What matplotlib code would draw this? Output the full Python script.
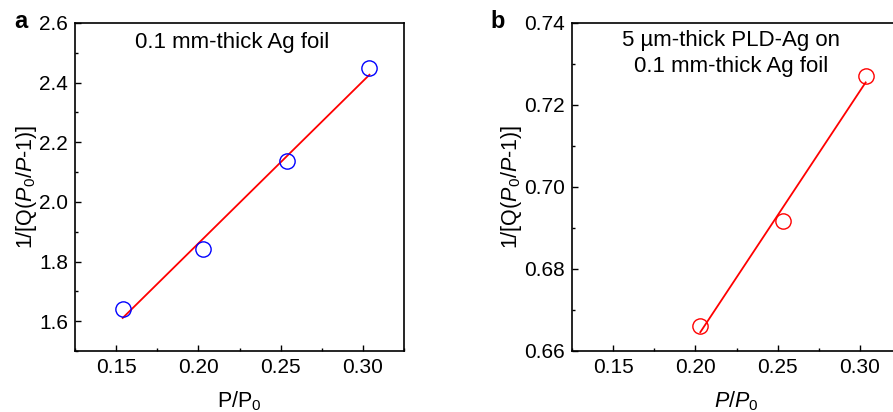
import numpy as np
import matplotlib
matplotlib.use("Agg")
import matplotlib.pyplot as plt
from matplotlib.ticker import MultipleLocator

plt.rcParams['font.family'] = ['Liberation Sans', 'DejaVu Sans']
plt.rcParams['mathtext.fontset'] = 'custom'
plt.rcParams['mathtext.rm'] = 'Liberation Sans'
plt.rcParams['mathtext.it'] = 'Liberation Sans:italic'
plt.rcParams['mathtext.bf'] = 'Liberation Sans:bold'

# Panel a data
pa_x = [0.154, 0.203, 0.254, 0.304]
pa_y = [1.640, 1.843, 2.136, 2.450]
# Panel b data
pb_x = [0.203, 0.253, 0.3035]
pb_y = [0.6662, 0.6917, 0.7271]

xticks = [0.15, 0.20, 0.25, 0.30]
a_yticks = [1.6, 1.8, 2.0, 2.2, 2.4, 2.6]
b_yticks = [0.66, 0.68, 0.70, 0.72, 0.74]

W, H = 893, 412
fig = plt.figure(figsize=(W/100, H/100), dpi=100)

def px_axes(l, t, r, b):
    return fig.add_axes([l/W, 1 - b/H, (r-l)/W, (b-t)/H])

axa = px_axes(75, 23, 404, 351)
axb = px_axes(572, 23, 901, 351)

FS = 15
LFS = 15.5
TFS = 16

def style(ax):
    for s in ax.spines.values():
        s.set_linewidth(1.2)
    ax.tick_params(which='both', direction='in', labelsize=FS, width=1.0)
    ax.tick_params(which='major', length=4.5, pad=5)
    ax.tick_params(which='minor', length=2.5)
    ax.xaxis.set_minor_locator(MultipleLocator(0.025))

# panel a
axa.plot(pa_x, pa_y, linestyle='none', marker='o', markersize=11,
         markerfacecolor='none', markeredgecolor='#0000ff', markeredgewidth=1.0, zorder=3)
ca = np.polyfit(pa_x, pa_y, 1)
xa = np.array([pa_x[0], pa_x[-1]])
axa.plot(xa, np.polyval(ca, xa), color='#ff0000', lw=1.3, zorder=2)
axa.set_xlim(0.125, 0.325)
axa.set_ylim(1.5, 2.6)
axa.set_xticks(xticks)
axa.set_xticklabels([f"{v:.2f}" for v in xticks])
axa.set_yticks(a_yticks)
axa.set_yticklabels([f"{v:.1f}" for v in a_yticks])
axa.yaxis.set_minor_locator(MultipleLocator(0.1))
style(axa)
axa.set_xlabel(r'P/P$\mathrm{_0}$', fontsize=LFS, labelpad=9)
axa.set_ylabel(r'1/[Q($P_0$/$P$-1)]', fontsize=LFS, labelpad=0)
axa.text(0.477, 0.942, '0.1 mm-thick Ag foil', transform=axa.transAxes,
         ha='center', va='center', fontsize=TFS)
fig.text(14/W, 1 - 22/H, 'a', fontsize=17, fontweight='bold', ha='left', va='center')

# panel b
axb.plot(pb_x, pb_y, linestyle='none', marker='o', markersize=11,
         markerfacecolor='none', markeredgecolor='#ff0000', markeredgewidth=1.0, zorder=3)
cb = np.polyfit(pb_x, pb_y, 1)
xb = np.array([pb_x[0], pb_x[-1]])
axb.plot(xb, np.polyval(cb, xb), color='#ff0000', lw=1.3, zorder=2)
axb.set_xlim(0.125, 0.325)
axb.set_ylim(0.66, 0.74)
axb.set_xticks(xticks)
axb.set_xticklabels([f"{v:.2f}" for v in xticks])
axb.set_yticks(b_yticks)
axb.set_yticklabels([f"{v:.2f}" for v in b_yticks])
axb.yaxis.set_minor_locator(MultipleLocator(0.01))
style(axb)
axb.set_xlabel(r'$P$/$P$$\mathrm{_0}$', fontsize=LFS, labelpad=9)
axb.set_ylabel(r'1/[Q($P_0$/$P$-1)]', fontsize=LFS, labelpad=0)
axb.text(0.483, 0.907, '5 \u00b5m-thick PLD-Ag on\n0.1 mm-thick Ag foil', transform=axb.transAxes,
         ha='center', va='center', fontsize=TFS, linespacing=1.35)
fig.text(490/W, 1 - 22/H, 'b', fontsize=17, fontweight='bold', ha='left', va='center')

fig.savefig('out.png', dpi=100)
